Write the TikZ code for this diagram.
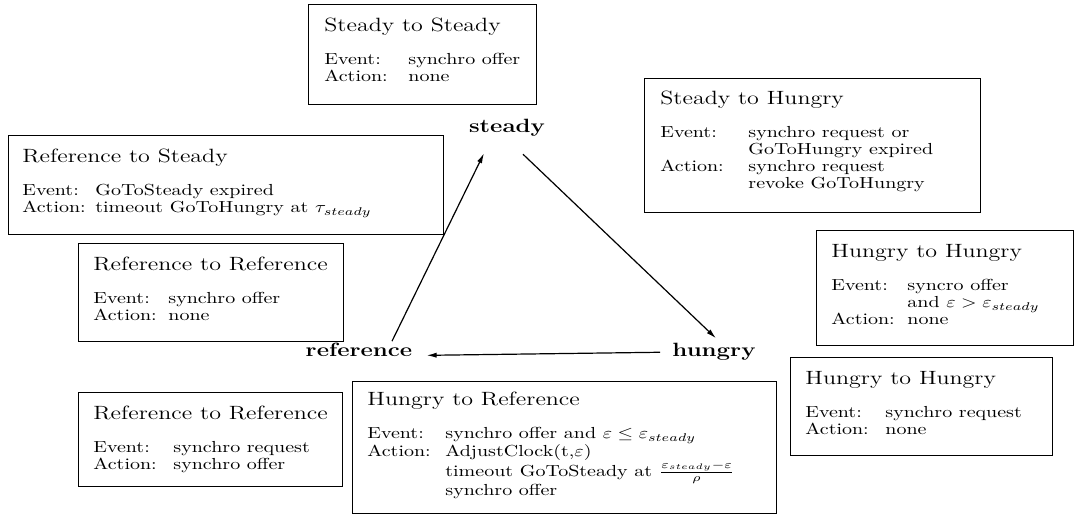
\documentclass[tikz,border=0pt]{standalone}
\usepackage{graphicx}
\usetikzlibrary{arrows.meta,calc}
\newcommand{\sq}[1]{\scalebox{1}[0.8]{#1}}
\newcommand{\boxcontent}[3]{\sq{\renewcommand{\arraystretch}{0.885}\begin{tabular}[t]{@{}p{#1}@{}l@{}}\multicolumn{2}{@{}l@{}}{\large #2}\\[10pt] #3\end{tabular}}}
\tikzset{
  stbox/.style={draw, line width=0.7pt, inner sep=0pt, anchor=north west},
  txt/.style={inner sep=0pt, anchor=base west},
  state/.style={inner sep=0pt, anchor=base, font=\large\bfseries},
  arr/.style={line width=0.6pt, -{Latex[length=5pt,width=2.6pt]}},
}
\begin{document}
\begin{tikzpicture}[x=0.5pt,y=-0.5pt]
\useasboundingbox (0,0) rectangle (1080,517);
% boxes
\node[stbox, minimum width=114pt, minimum height=50pt] (b1) at (308,4) {};
\node[txt] (t1) at (324,32) {\boxcontent{42pt}{Steady to Steady}{Event: & synchro offer\\ Action: & none}};

\node[stbox, minimum width=168pt, minimum height=67pt] (b2) at (644,78) {};
\node[txt] (t2) at (660,105) {\boxcontent{44pt}{Steady to Hungry}{Event: & synchro request or\\ & GoToHungry expired\\ Action: & synchro request\\ & revoke GoToHungry}};

\node[stbox, minimum width=217.5pt, minimum height=49.5pt] (b3) at (8,135) {};
\node[txt] (t3) at (22,163) {\boxcontent{36.5pt}{Reference to Steady}{Event: & GoToSteady expired\\ Action: & timeout GoToHungry at $\tau_{steady}$}};

\node[stbox, minimum width=132.5pt, minimum height=49pt] (b4) at (78,243) {};
\node[txt] (t4) at (93,271) {\boxcontent{37.5pt}{Reference to Reference}{Event: & synchro offer\\ Action: & none}};

\node[stbox, minimum width=128.5pt, minimum height=57.5pt] (b5) at (816,230) {};
\node[txt] (t5) at (831,258) {\boxcontent{38pt}{Hungry to Hungry}{Event: & syncro offer\\ & and $\varepsilon > \varepsilon_{steady}$\\ Action: & none}};

\node[stbox, minimum width=131pt, minimum height=49pt] (b6) at (790,357) {};
\node[txt] (t6) at (805,385) {\boxcontent{40pt}{Hungry to Hungry}{Event: & synchro request\\ Action: & none}};

\node[stbox, minimum width=132pt, minimum height=47pt] (b7) at (78,392) {};
\node[txt] (t7) at (93,420) {\boxcontent{40pt}{Reference to Reference}{Event: & synchro request\\ Action: & synchro offer}};

\node[stbox, minimum width=212pt, minimum height=66pt] (b8) at (352,381) {};
\node[txt] (t8) at (367,406) {\boxcontent{39pt}{Hungry to Reference}{Event: & synchro offer and $\varepsilon \le \varepsilon_{steady}$\\ Action: & AdjustClock(t,$\varepsilon$)\\ & timeout GoToSteady at $\frac{\varepsilon_{steady}-\varepsilon}{\rho}$\\ & synchro offer}};

% states
\node[state] (steady) at (507,133) {\sq{steady}};
\node[state] (reference) at (359,357) {\sq{reference}};
\node[state] (hungry) at (714,357) {\sq{hungry}};

% transitions
\draw[arr] ($(reference.north)+(33,-2)$) -- ($(steady.south)+(-23,16)$);
\draw[arr] ($(steady.south)+(16,17)$) -- ($(hungry.north)+(2,-5)$);
\draw[arr] ($(hungry.west)+(-12,0)$) -- ($(reference.east)+(14,5)$);
\end{tikzpicture}
\end{document}
